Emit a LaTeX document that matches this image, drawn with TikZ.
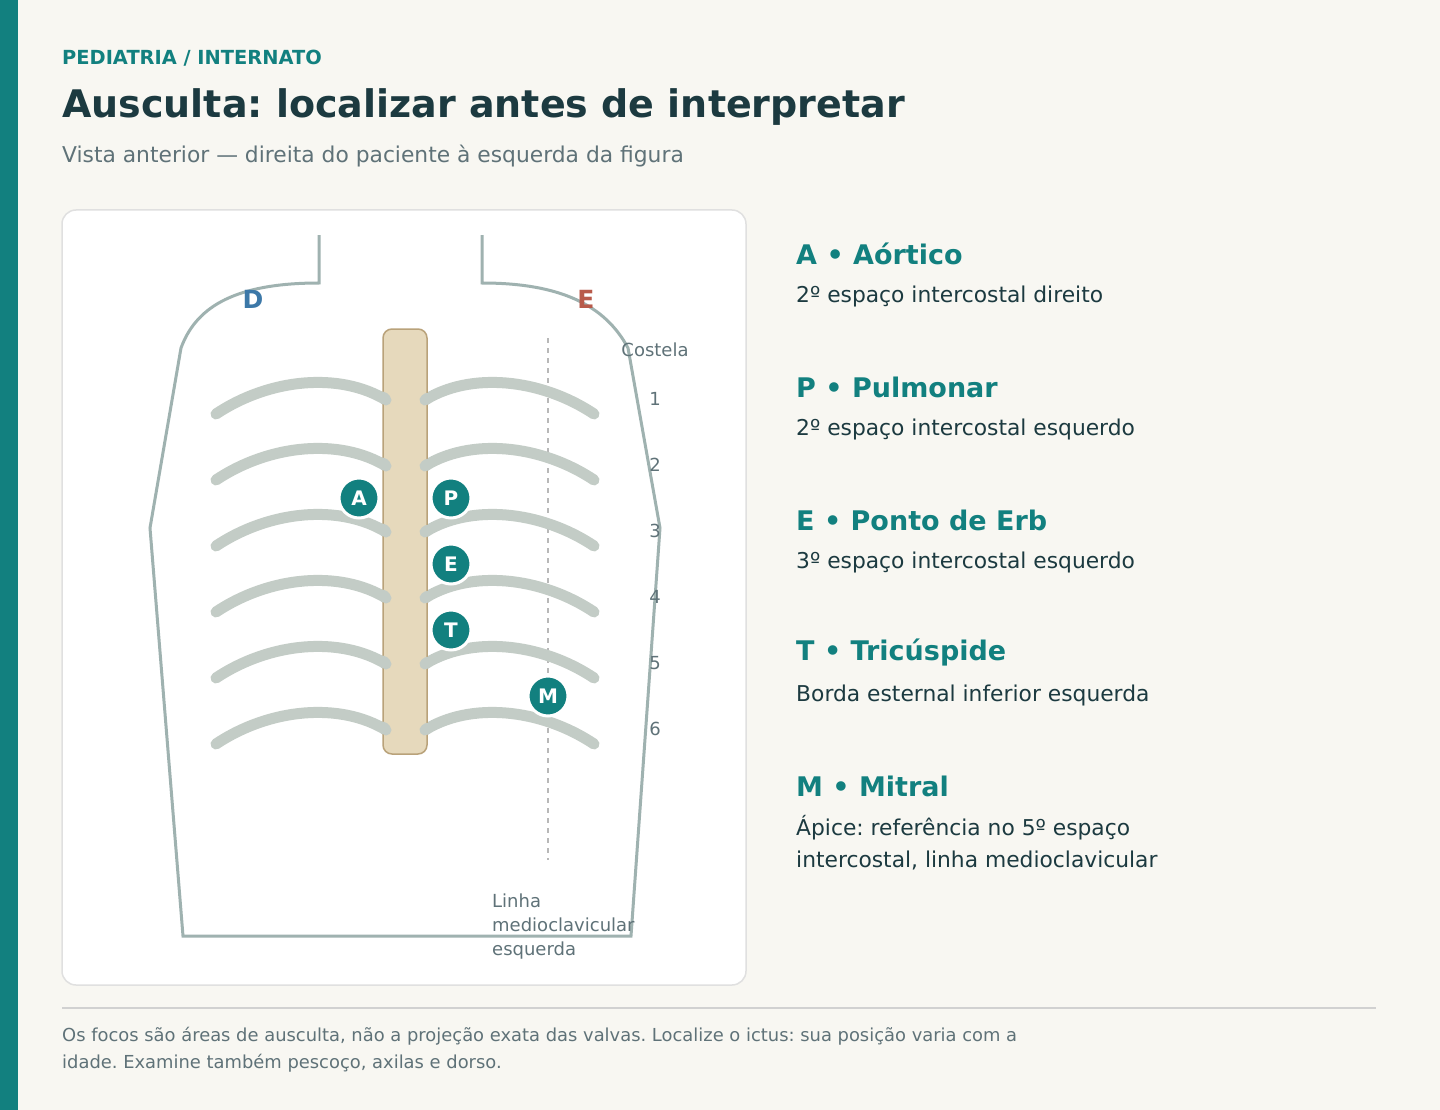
\documentclass[tikz,border=0pt]{standalone}
\usepackage{fontspec}
\setmainfont{DejaVu Sans}
\frenchspacing
\definecolor{teal}{HTML}{12807F}
\definecolor{bg}{HTML}{F8F7F2}
\definecolor{dark}{HTML}{1C3A40}
\definecolor{gry}{HTML}{5F7278}
\definecolor{torso}{HTML}{9FB2B0}
\definecolor{rib}{HTML}{C3CCC6}
\definecolor{stern}{HTML}{E6D9BC}
\definecolor{sternb}{HTML}{B9A27A}
\definecolor{dcol}{HTML}{3C78A8}
\definecolor{ecol}{HTML}{B85A4A}
\begin{document}
\begin{tikzpicture}[x=1pt,y=-1pt,
 fs/.style={font=\fontsize{#1}{#1}\selectfont},
 lbl/.style={anchor=west,inner sep=0},
 ribs/.style={draw=rib,line width=11,line cap=round},
 mk/.style={circle,fill=teal,draw=white,line width=3,minimum size=40,inner sep=0,text=white,font=\fontsize{20}{20}\selectfont\bfseries},
 num/.style={text=gry,fs=18,inner sep=0}]
\fill[bg] (0,0) rectangle (1440,1110);
\useasboundingbox (0,0) rectangle (1440,1110);
\fill[teal] (0,0) rectangle (18,1110);
\node[lbl,text=teal,font=\fontsize{19.4}{19}\selectfont\bfseries] (h) at (62,58) {PEDIATRIA / INTERNATO};
\node[lbl,text=dark,font=\fontsize{38}{38}\selectfont\bfseries] (t) at (62,107) {Ausculta: localizar antes de interpretar};
\node[lbl,text=gry,fs=21.8] (s) at (62,156) {Vista anterior — direita do paciente à esquerda da figura};
\draw[fill=white,draw=black!12,line width=1.5,rounded corners=14] (62,210) rectangle (746,985);
\draw[torso,line width=3] (319,235) -- (319,283) .. controls (230,283) and (195,310) .. (181,348) -- (150,528) -- (183,936) -- (631,936) -- (660,528) -- (628,348) .. controls (605,305) and (560,283) .. (482,283) -- (482,235);
\draw[draw=black!28,line width=1.3,dash pattern=on 5pt off 5pt] (548,338) -- (548,860);
\foreach \i in {0,...,5}{
 \draw[ribs] (216,414+66*\i) .. controls (270,378+66*\i) and (340,372+66*\i) .. (386,400+66*\i);
 \draw[ribs] (425,400+66*\i) .. controls (470,372+66*\i) and (540,378+66*\i) .. (594,414+66*\i);
 \pgfmathtruncatemacro\nn{\i+1}
 \node[num] (n\i) at (655,399+66*\i) {\nn};
}
\draw[fill=stern,draw=sternb,line width=1.5,rounded corners=9] (383,329) rectangle (427,754);
\foreach \i in {0,...,5}{
 \draw[ribs] (383,397+66*\i) -- (386,400+66*\i);
 \draw[ribs] (425,400+66*\i) -- (428,398+66*\i);
}
\node[num] (cos) at (655,350) {Costela};
\node[text=dcol,font=\fontsize{25}{25}\selectfont\bfseries] (D) at (253,299) {D};
\node[text=ecol,font=\fontsize{25}{25}\selectfont\bfseries] (Er) at (586,299) {E};
\node[mk] (A) at (359,498) {A};
\node[mk] (P) at (451,498) {P};
\node[mk] (E) at (451,564) {E};
\node[mk] (T) at (451,630) {T};
\node[mk] (M) at (548,696) {M};
\node[lbl,text=gry,fs=18,align=left] (lm) at (492,927) {Linha\\[6pt]medioclavicular\\[6pt]esquerda};
\foreach \a/\b/\y [count=\k] in {A • Aórtico/2º espaço intercostal direito/254,P • Pulmonar/2º espaço intercostal esquerdo/387,E • Ponto de Erb/3º espaço intercostal esquerdo/520,T • Tricúspide/Borda esternal inferior esquerda/653}{
 \node[lbl,text=teal,font=\fontsize{27}{27}\selectfont\bfseries] (L\k) at (796,\y) {\a};
 \node[lbl,text=dark,fs=21.8] (d\k) at (796,\y+42) {\b};
}
\node[lbl,text=teal,font=\fontsize{27}{27}\selectfont\bfseries] (L5) at (796,786) {M • Mitral};
\node[lbl,text=dark,fs=21.8] (d5) at (796,828) {Ápice: referência no 5º espaço};
\node[lbl,text=dark,fs=21.8] (d6) at (796,860) {intercostal, linha medioclavicular};
\draw[draw=black!18,line width=1.5] (62,1008) -- (1376,1008);
\node[lbl,text=gry,fs=17.9] (f1) at (62,1036) {Os focos são áreas de ausculta, não a projeção exata das valvas. Localize o ictus: sua posição varia com a};
\node[lbl,text=gry,fs=17.9] (f2) at (62,1063) {idade. Examine também pescoço, axilas e dorso.};
\end{tikzpicture}
\end{document}
